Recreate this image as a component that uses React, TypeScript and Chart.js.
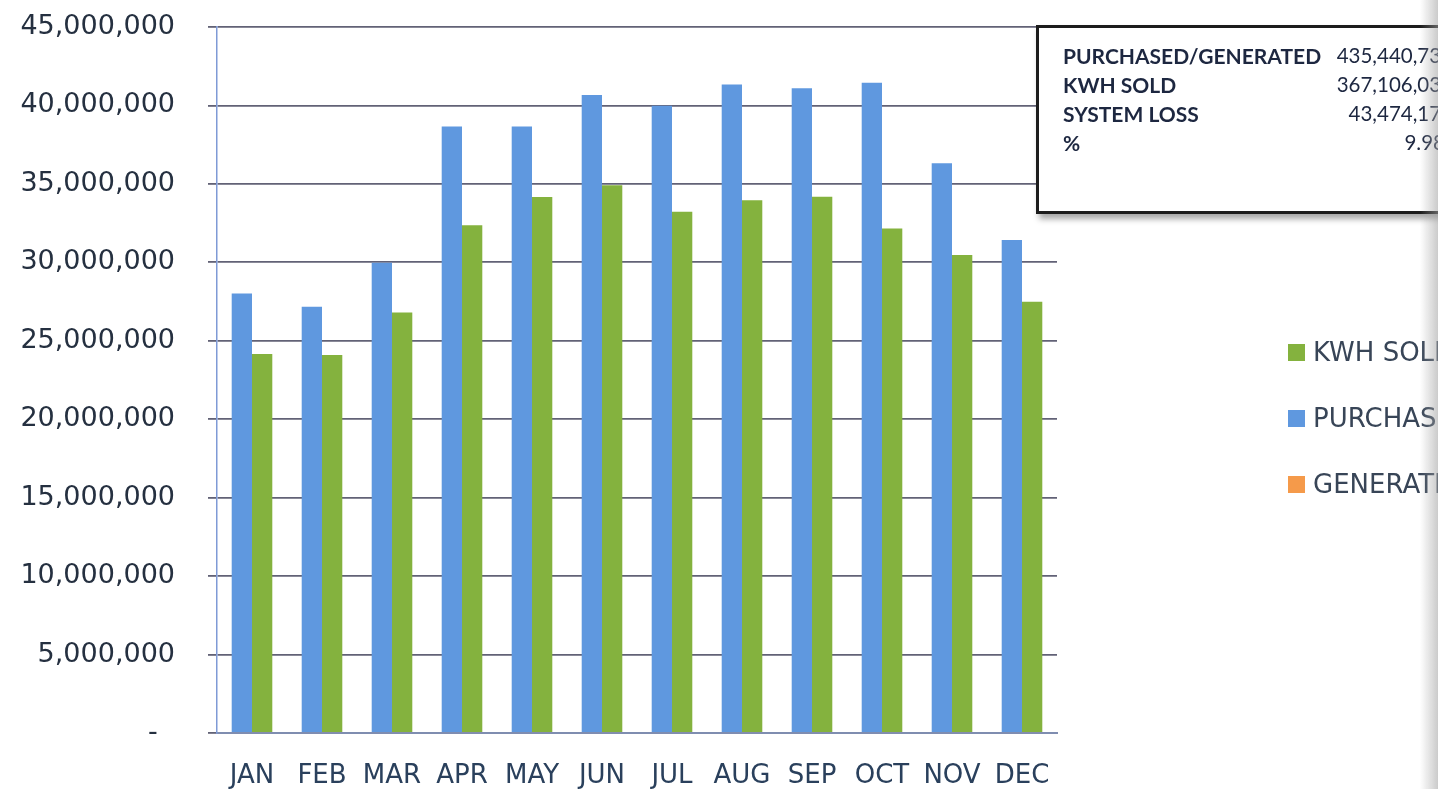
import React, { useEffect, useRef } from 'react';
import { Chart, registerables } from 'chart.js';

Chart.register(...registerables);

// ---- data ----
const categories = ['JAN', 'FEB', 'MAR', 'APR', 'MAY', 'JUN', 'JUL', 'AUG', 'SEP', 'OCT', 'NOV', 'DEC'];
const purchased = [28020000, 27170000, 29970000, 38650000, 38650000, 40660000, 39980000, 41340000, 41090000, 41450000, 36310000, 31420000];
const kwhSold = [24090000, 24030000, 26750000, 32300000, 34100000, 34860000, 33160000, 33900000, 34120000, 32100000, 30400000, 27430000];
const generated = [60000, 60000, 60000, 60000, 60000, 60000, 60000, 60000, 60000, 60000, 60000, 60000];
const yTickValues = [0, 5000000, 10000000, 15000000, 20000000, 25000000, 30000000, 35000000, 40000000, 45000000];
const summaryLabels = ['PURCHASED/GENERATED', 'KWH SOLD', 'SYSTEM LOSS', '%'];
const summaryValues = ['435,440,731', '367,106,033', '43,474,173', '9.98'];
const legendNames = ['KWH SOLD', 'PURCHASED', 'GENERATED'];

const BLUE = '#5f98df';
const GREEN = '#84b23e';
const ORANGE = '#f59a4a';
const legendColors = [GREEN, BLUE, ORANGE];

const AXIS_FONT = "'DejaVu Sans', sans-serif";

export default function App() {
  const canvasRef = useRef<HTMLCanvasElement | null>(null);

  useEffect(() => {
    if (!canvasRef.current) return;
    const chart = new Chart(canvasRef.current, {
      type: 'bar',
      data: {
        labels: categories,
        datasets: [
          { label: legendNames[1], data: purchased, backgroundColor: BLUE, stack: 'p', borderWidth: 0 },
          { label: legendNames[2], data: generated, backgroundColor: ORANGE, stack: 's', borderWidth: 0 },
          { label: legendNames[0], data: kwhSold, backgroundColor: GREEN, stack: 's', borderWidth: 0 },
        ],
      },
      options: {
        animation: false,
        responsive: false,
        maintainAspectRatio: false,
        layout: { padding: { top: 27, right: 381, bottom: 0, left: 0 } },
        datasets: { bar: { barPercentage: 1, categoryPercentage: 0.58 } },
        plugins: {
          legend: { display: false },
          tooltip: { enabled: false },
          title: { display: false },
        },
        scales: {
          x: {
            stacked: true,
            grid: { display: false, drawOnChartArea: false, drawTicks: false },
            border: { display: true, color: '#7f8db0', width: 2 },
            ticks: {
              color: '#2a405c',
              font: { family: AXIS_FONT, size: 26 },
              padding: 28,
              maxRotation: 0,
              autoSkip: false,
            },
            afterFit: (s: any) => {
              s.height = 56;
              s.paddingLeft = 0;
              s.paddingRight = 0;
            },
          },
          y: {
            stacked: true,
            min: 0,
            max: 45000000,
            afterBuildTicks: (s: any) => {
              s.ticks = yTickValues.map((v) => ({ value: v }));
            },
            afterFit: (s: any) => {
              s.width = 217;
              s.paddingTop = 0;
              s.paddingBottom = 0;
            },
            grid: {
              color: '#626276',
              lineWidth: 1.8,
              tickLength: 9,
              drawTicks: true,
            },
            border: { display: true, color: '#7f9ad6', width: 1.5 },
            ticks: {
              color: '#253040',
              font: { family: AXIS_FONT, size: 27 },
              padding: 33,
              callback: (v: any) => (Number(v) === 0 ? '-  ' : Number(v).toLocaleString('en-US')),
            },
          },
        },
      },
    });
    return () => chart.destroy();
  }, []);

  return (
    <div
      style={{
        position: 'fixed',
        left: 0,
        top: 0,
        width: 1438,
        height: 789,
        overflow: 'hidden',
        background: '#ffffff',
      }}
    >
      <canvas ref={canvasRef} width={1438} height={789} style={{ position: 'absolute', left: 0, top: 0 }} />

      {/* summary box */}
      <div
        style={{
          position: 'absolute',
          left: 1036,
          top: 25,
          width: 440,
          height: 183,
          border: '3px solid #1c1c1c',
          background: '#ffffff',
          boxShadow: '3px 5px 6px rgba(0,0,0,0.35)',
        }}
      >
        {summaryLabels.map((lab, i) => (
          <div
            key={lab}
            style={{
              position: 'absolute',
              left: 24,
              top: 13 + i * 29,
              width: 390,
              height: 29,
              lineHeight: '29px',
              fontFamily: 'Lato, sans-serif',
              color: '#1d2740',
              whiteSpace: 'nowrap',
            }}
          >
            <span style={{ fontWeight: 700, fontSize: 21 }}>{lab}</span>
            <span
              style={{
                position: 'absolute',
                right: i === 3 ? 8 : 0,
                top: 0,
                fontSize: 20.5,
                fontWeight: 400,
              }}
            >
              {summaryValues[i]}
            </span>
          </div>
        ))}
      </div>

      {/* legend */}
      {legendNames.map((name, i) => (
        <div
          key={name}
          style={{
            position: 'absolute',
            left: 1288,
            top: 336 + i * 66,
            height: 32,
            display: 'flex',
            alignItems: 'center',
            whiteSpace: 'nowrap',
            fontFamily: AXIS_FONT,
            fontSize: 26,
            color: '#384557',
          }}
        >
          <span style={{ display: 'inline-block', width: 17, height: 17, background: legendColors[i], marginRight: 8 }} />
          <span>{name}</span>
        </div>
      ))}

      {/* scan edge shading */}
      <div
        style={{
          position: 'absolute',
          left: 1420,
          top: 0,
          width: 18,
          height: 789,
          background: 'linear-gradient(to right, rgba(255,255,255,0), rgba(160,160,160,0.55))',
        }}
      />
    </div>
  );
}
